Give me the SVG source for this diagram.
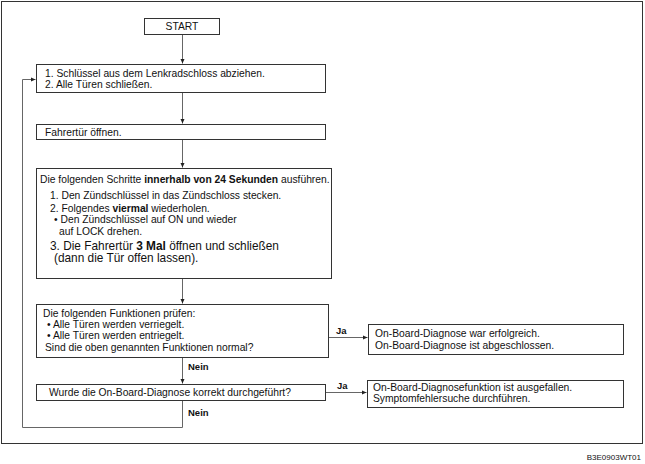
<svg xmlns="http://www.w3.org/2000/svg" width="645" height="464" viewBox="0 0 645 464">
<defs>
<marker id="ah" markerWidth="6" markerHeight="6" refX="5" refY="3" orient="auto" markerUnits="userSpaceOnUse">
<path d="M0,0.8 L5,3 L0,5.2 Z" fill="#222"/>
</marker>
<style>
text{font-family:"Liberation Sans",Arial,sans-serif;font-size:10.3px;fill:#111}
.b{font-weight:bold}
.box{fill:#fff;stroke:#333;stroke-width:1}
.con{fill:none;stroke:#666;stroke-width:1}
.lbl{font-weight:bold;font-size:9.5px}
.big{font-size:11.85px}
</style>
</defs>
<rect x="1.5" y="1.5" width="641" height="442" fill="#fff" stroke="#333" stroke-width="1"/>
<g id="connectors">
<line class="con" x1="182.5" y1="34" x2="182.5" y2="63.5" marker-end="url(#ah)"/>
<line class="con" x1="182.5" y1="92" x2="182.5" y2="123.5" marker-end="url(#ah)"/>
<line class="con" x1="182.5" y1="139" x2="182.5" y2="167.5" marker-end="url(#ah)"/>
<line class="con" x1="182.5" y1="278" x2="182.5" y2="303.5" marker-end="url(#ah)"/>
<line class="con" x1="182.5" y1="357" x2="182.5" y2="383.5" marker-end="url(#ah)"/>
<line class="con" x1="329" y1="337.5" x2="367.5" y2="337.5" marker-end="url(#ah)"/>
<line class="con" x1="326" y1="392.5" x2="366.5" y2="392.5" marker-end="url(#ah)"/>
<polyline class="con" points="182.5,400 182.5,427.5 22.5,427.5 22.5,79.5 35.5,79.5" marker-end="url(#ah)"/>
<text class="lbl" x="188" y="370">Nein</text>
<text class="lbl" x="336" y="334">Ja</text>
<text class="lbl" x="337" y="389">Ja</text>
<text class="lbl" x="188" y="416">Nein</text>
</g>
<g id="start">
<rect class="box" x="144.5" y="18.5" width="75" height="16"/>
<text x="182" y="30" text-anchor="middle">START</text>
</g>
<g id="step1">
<rect class="box" x="36.5" y="64.5" width="289" height="28"/>
<text x="45" y="77">1. Schlüssel aus dem Lenkradschloss abziehen.</text>
<text x="45" y="88">2. Alle Türen schließen.</text>
</g>
<g id="step2">
<rect class="box" x="36.5" y="124.5" width="289" height="15"/>
<text x="45" y="135.5">Fahrertür öffnen.</text>
</g>
<g id="step3">
<rect class="box" x="36.5" y="168.5" width="295" height="110"/>
<text x="40" y="183">Die folgenden Schritte <tspan class="b">innerhalb von 24 Sekunden</tspan> ausführen.</text>
<text x="50" y="199">1. Den Zündschlüssel in das Zündschloss stecken.</text>
<text x="50" y="211.5">2. Folgendes <tspan class="b">viermal</tspan> wiederholen.</text>
<text x="54" y="223">• Den Zündschlüssel auf ON und wieder</text>
<text x="59" y="234.5">auf LOCK drehen.</text>
<text class="big" x="50" y="249.5">3. Die Fahrertür <tspan class="b">3 Mal</tspan> öffnen und schließen</text>
<text class="big" x="54" y="262">(dann die Tür offen lassen).</text>
</g>
<g id="check">
<rect class="box" x="36.5" y="304.5" width="292" height="53"/>
<text x="43" y="316.5">Die folgenden Funktionen prüfen:</text>
<text x="47" y="327.5">• Alle Türen werden verriegelt.</text>
<text x="47" y="339">• Alle Türen werden entriegelt.</text>
<text x="45" y="350.5">Sind die oben genannten Funktionen normal?</text>
</g>
<g id="result1">
<rect class="box" x="368.5" y="324.5" width="255" height="30"/>
<text x="375" y="337">On-Board-Diagnose war erfolgreich.</text>
<text x="375" y="349">On-Board-Diagnose ist abgeschlossen.</text>
</g>
<g id="question">
<rect class="box" x="36.5" y="384.5" width="289" height="16"/>
<text x="49" y="396">Wurde die On-Board-Diagnose korrekt durchgeführt?</text>
</g>
<g id="result2">
<rect class="box" x="367.5" y="380.5" width="256" height="27"/>
<text x="373" y="391">On-Board-Diagnosefunktion ist ausgefallen.</text>
<text x="373" y="402">Symptomfehlersuche durchführen.</text>
</g>
<text x="641" y="460" text-anchor="end" style="font-size:8px">B3E0903WT01</text>
</svg>
